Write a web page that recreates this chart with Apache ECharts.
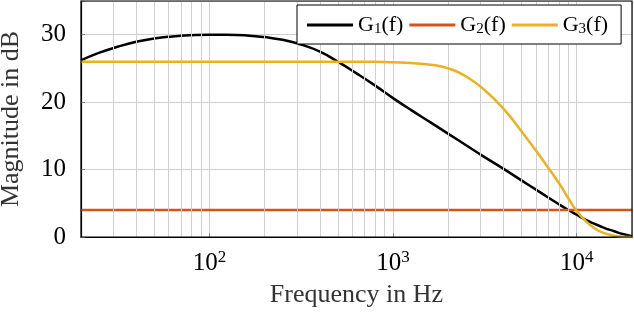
<!DOCTYPE html>
<html>
<head>
<meta charset="utf-8">
<script src="https://cdn.jsdelivr.net/npm/echarts@6/dist/echarts.min.js"></script>
<style>
html,body{margin:0;padding:0;background:#fff;}
#chart{width:634px;height:312px;}
</style>
</head>
<body>
<div id="chart"></div>
<script>
// Frequencies (Hz) at which G1 and G3 were read
var freqs = [20,25,32,40,50,63,80,100,125,160,200,250,315,400,500,630,800,1000,1250,1600,2000,2500,3150,4000,5000,6300,8000,9000,10000,11200,12500,14000,16000,18000,20000];
// Magnitudes in dB
var g1 = [26.2,27.3,28.25,28.95,29.45,29.75,29.93,30.0,30.0,29.9,29.65,29.25,28.55,27.5,26.0,24.3,22.45,20.6,18.85,17.0,15.3,13.6,11.85,10.1,8.4,6.65,4.85,4.0,3.3,2.55,1.95,1.4,0.85,0.4,0.1];
var g3 = [26.0,26.0,26.0,26.0,26.0,26.0,26.0,26.0,26.0,26.0,26.0,26.0,26.0,26.0,26.0,26.0,26.0,25.9,25.8,25.55,25.0,23.8,21.8,19.0,15.7,12.0,8.0,5.75,3.85,2.35,1.3,0.6,0.2,0.05,0.0];
var g2Freqs = [20, 20000];
var g2 = [4, 4];
var seriesNames = ['G1(f)', 'G2(f)', 'G3(f)'];
var seriesColors = ['#000000', '#D95319', '#EDB120'];
// Minor grid line positions (Hz)
var minorGridFreqs = [30,40,50,60,70,80,90,200,300,400,500,600,700,800,900,2000,3000,4000,5000,6000,7000,8000,9000];
var xMin = 20, xMax = 20000;
var yMin = 0, yMax = 35, yStep = 10;

function pairs(xs, ys){ return xs.map(function(x,i){ return [x, ys[i]]; }); }

var chart = echarts.init(document.getElementById('chart'));
var serif = 'Liberation Serif';
var gridColor = '#cfcfcf';

var option = {
  animation: false,
  backgroundColor: '#ffffff',
  textStyle: { fontFamily: serif },
  grid: { left: 81, right: 2, top: 1, bottom: 75, containLabel: false, outerBoundsMode: 'none', show: true, borderColor: '#000', borderWidth: 1.2, backgroundColor: 'transparent', z: 10 },
  legend: {
    data: seriesNames.map(function(n){ return { name: n, icon: 'rect' }; }),
    left: 297, top: 5,
    backgroundColor: '#fff', borderColor: '#000', borderWidth: 1,
    padding: [8, 13, 7, 10],
    itemWidth: 46, itemHeight: 3, itemGap: 6,
    z: 20,
    textStyle: {
      fontFamily: serif, fontSize: 22, color: '#000', lineHeight: 24, padding: [0,0,0,0],
      rich: { sub: { fontFamily: serif, fontSize: 15, lineHeight: 14, verticalAlign: 'bottom', color: '#000' } }
    },
    formatter: function(name){ return 'G{sub|' + name.charAt(1) + '}' + name.slice(2); }
  },
  xAxis: [{
    type: 'log', logBase: 10, min: xMin, max: xMax,
    name: 'Frequency in Hz', nameLocation: 'middle', nameGap: 45,
    nameTextStyle: { fontFamily: serif, fontSize: 26, color: '#333' },
    axisLine: { show: true, lineStyle: { color: '#000', width: 1.2 } },
    axisTick: { show: true, inside: true, length: 4, lineStyle: { color: '#888' } },
    splitLine: { show: true, lineStyle: { color: gridColor, width: 1 } },
    axisLabel: {
      margin: 12, color: '#000',
      showMinLabel: false, showMaxLabel: false,
      formatter: function(v){
        var e = Math.log10(v), r = Math.round(e);
        if (Math.abs(e - r) > 1e-6) return '';
        return '{b|10}{s|' + r + '}';
      },
      rich: {
        b: { fontFamily: serif, fontSize: 25, lineHeight: 28, color: '#000' },
        s: { fontFamily: serif, fontSize: 17, lineHeight: 12, verticalAlign: 'top', color: '#000' }
      }
    }
  }],
  yAxis: [{
    type: 'value', min: yMin, max: yMax, interval: yStep,
    name: 'Magnitude in dB', nameLocation: 'middle', nameGap: 57,
    nameTextStyle: { fontFamily: serif, fontSize: 26, color: '#333' },
    axisLine: { show: true, lineStyle: { color: '#000', width: 1.2 } },
    axisTick: { show: true, inside: true, length: 4, lineStyle: { color: '#888' } },
    splitLine: { show: true, lineStyle: { color: gridColor, width: 1 } },
    axisLabel: {
      margin: 15, color: '#000', fontFamily: serif, fontSize: 25,
      formatter: function(v){ return (v % yStep === 0) ? String(v) : ''; }
    }
  }],
  series: [
    {
      name: '_grid', type: 'line', data: [], silent: true, z: 1,
      markLine: {
        silent: true, symbol: 'none', label: { show: false },
        lineStyle: { color: gridColor, width: 1, type: 'solid' },
        data: minorGridFreqs.map(function(f){ return { xAxis: f }; })
      }
    },
    {
      name: seriesNames[0], type: 'line', data: pairs(freqs, g1), showSymbol: false, symbol: 'none',
      smooth: 0.5, lineStyle: { color: seriesColors[0], width: 2.5 }, itemStyle: { color: seriesColors[0] }, z: 3
    },
    {
      name: seriesNames[1], type: 'line', data: pairs(g2Freqs, g2), showSymbol: false, symbol: 'none',
      lineStyle: { color: seriesColors[1], width: 2.5 }, itemStyle: { color: seriesColors[1] }, z: 4
    },
    {
      name: seriesNames[2], type: 'line', data: pairs(freqs, g3), showSymbol: false, symbol: 'none',
      smooth: 0.5, lineStyle: { color: seriesColors[2], width: 2.5 }, itemStyle: { color: seriesColors[2] }, z: 5
    }
  ]
};
chart.setOption(option);
</script>
</body>
</html>
